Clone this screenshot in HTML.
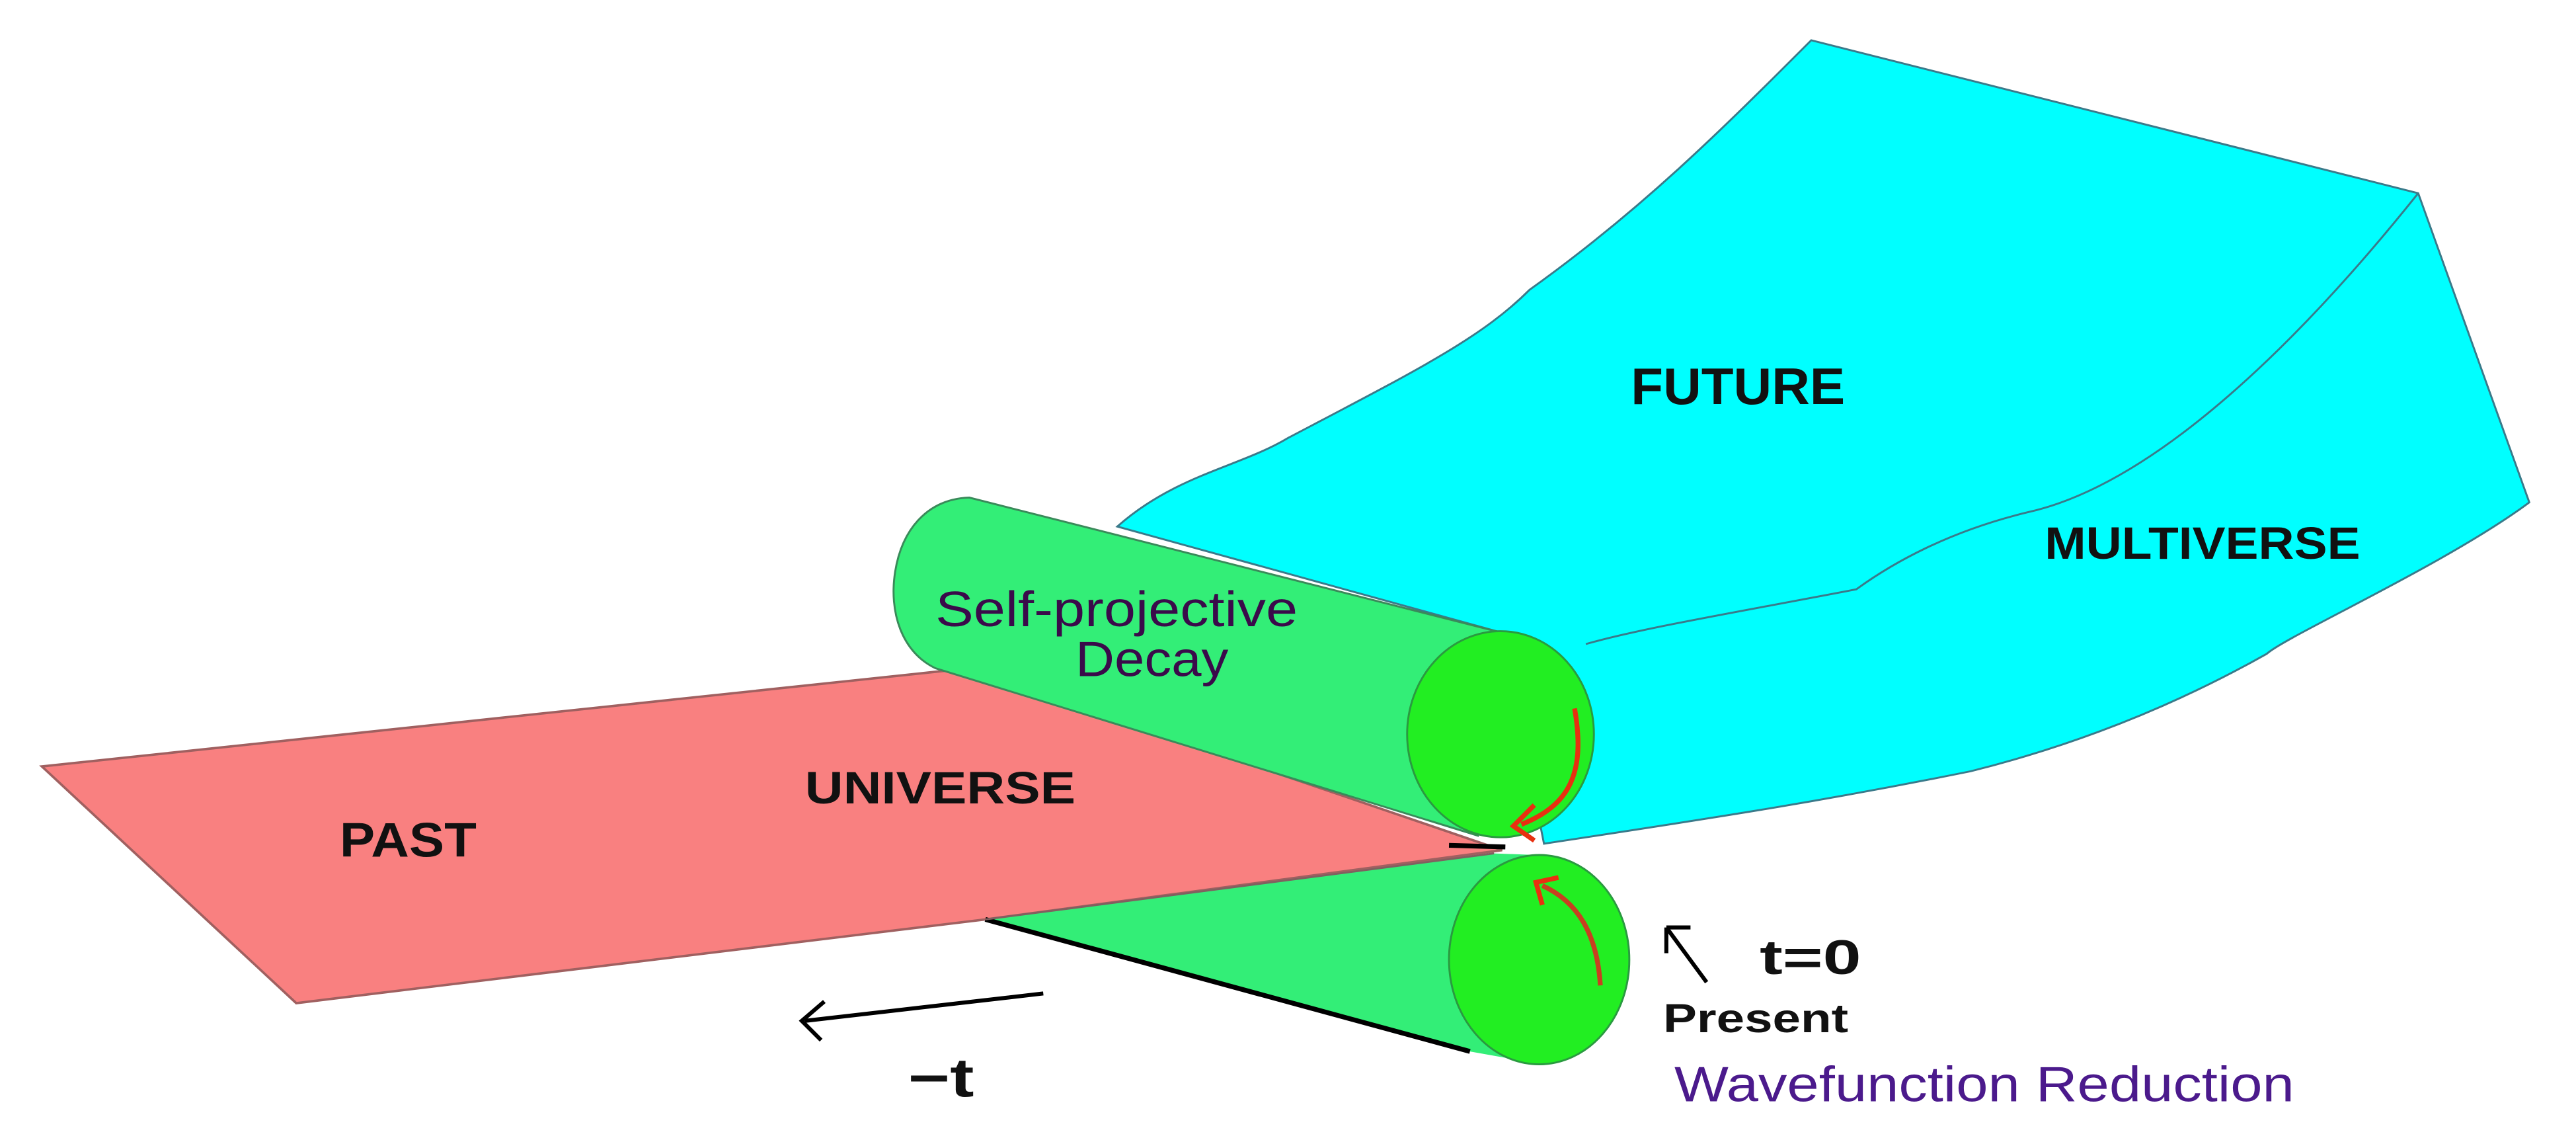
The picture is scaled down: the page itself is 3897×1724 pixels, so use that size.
<!DOCTYPE html>
<html><head><meta charset="utf-8"><style>
html,body{margin:0;padding:0;background:#fff;}
svg{display:block;}
text{font-family:"Liberation Sans",sans-serif;}
</style></head><body>
<svg width="3897" height="1724" viewBox="0 0 1600 708" preserveAspectRatio="none" xmlns="http://www.w3.org/2000/svg">
<rect width="1600" height="708" fill="#fff"/>
<!-- cyan multiverse -->
<path d="M1125,25 L1502,120 L1571,312 C1520,350 1420,395 1408,406 C1330,450 1260,470 1224,479 C1120,500 1050,510 959,524 L933,393 L694,327 C730,295 770,290 800,272 C880,230 920,210 950,180 C1020,130 1070,80 1125,25 Z" fill="#00ffff" stroke="#3a7a8a" stroke-width="1.2"/>
<path d="M1502,120 C1430,210 1340,300 1260,318 C1210,330 1175,350 1153,366 C1080,380 1020,390 985,400" fill="none" stroke="#3a7a8a" stroke-width="1.2"/>
<!-- pink universe -->
<path d="M26,476 L602,415 L933,528 L612,571 L184,623 Z" fill="#f98080" stroke="#a06060" stroke-width="1.5"/>
<!-- bottom cone -->
<path d="M612,571 L928,530 L954,531 L958,661 L913,653 Z" fill="#33ee77"/>
<path d="M612,571 L913,653" stroke="#000" stroke-width="3"/>
<path d="M612,571 L928,530" stroke="#806060" stroke-width="1.2"/>
<ellipse cx="956" cy="596" rx="56" ry="65" fill="#22ee22" stroke="#2a9a40" stroke-width="1.2"/>
<!-- top cylinder -->
<path d="M602,309 L933,393 L918,519 L581,415 C560,405 552,380 556,355 C560,330 575,310 602,309 Z" fill="#33ee77" stroke="#3a8a5a" stroke-width="1.2"/>
<ellipse cx="932" cy="456" rx="58" ry="64" fill="#22ee22" stroke="#2a9a40" stroke-width="1.2"/>
<path d="M900,525 L935,526" stroke="#000" stroke-width="3"/>
<!-- red arrows -->
<path d="M978,440 C985,480 975,500 945,512" fill="none" stroke="#e83010" stroke-width="3"/>
<path d="M953,500 L940,513 L953,522" fill="none" stroke="#e83010" stroke-width="3"/>
<path d="M994,612 C992,580 980,560 958,550" fill="none" stroke="#c84020" stroke-width="3"/>
<path d="M958,562 L954,548 L968,545" fill="none" stroke="#e83010" stroke-width="3"/>
<!-- time arrow -->
<path d="M648,617 L500,634" stroke="#000" stroke-width="2.5"/>
<path d="M512,622 L498,634 L510,646" fill="none" stroke="#000" stroke-width="2.5"/>
<!-- labels -->
<g font-weight="bold" fill="#111" lengthAdjust="spacingAndGlyphs">
<text x="1013" y="251" font-size="32" textLength="133" lengthAdjust="spacingAndGlyphs">FUTURE</text>
<text x="1270" y="347" font-size="28" textLength="196" lengthAdjust="spacingAndGlyphs">MULTIVERSE</text>
<text x="500" y="499" font-size="28" textLength="168" lengthAdjust="spacingAndGlyphs">UNIVERSE</text>
<text x="211" y="532" font-size="30" textLength="85" lengthAdjust="spacingAndGlyphs">PAST</text>
<text x="1093" y="605" font-size="30" textLength="63" lengthAdjust="spacingAndGlyphs">t=0</text>
<text x="1033" y="641" font-size="25" textLength="115" lengthAdjust="spacingAndGlyphs">Present</text>
<text x="564" y="681" font-size="34" textLength="41" lengthAdjust="spacingAndGlyphs">−t</text>
</g>
<g fill="#3a0a4a" font-size="31">
<text x="581" y="389" textLength="225" lengthAdjust="spacingAndGlyphs">Self-projective</text>
<text x="668" y="420" textLength="95" lengthAdjust="spacingAndGlyphs">Decay</text>
</g>
<text x="1040" y="684" font-size="31" fill="#4b1a8c" textLength="385" lengthAdjust="spacingAndGlyphs">Wavefunction Reduction</text>
<path d="M1035,576 L1060,610 M1035,576 L1035,592 M1035,576 L1050,576" fill="none" stroke="#000" stroke-width="2.5"/>
</svg>
</body></html>
